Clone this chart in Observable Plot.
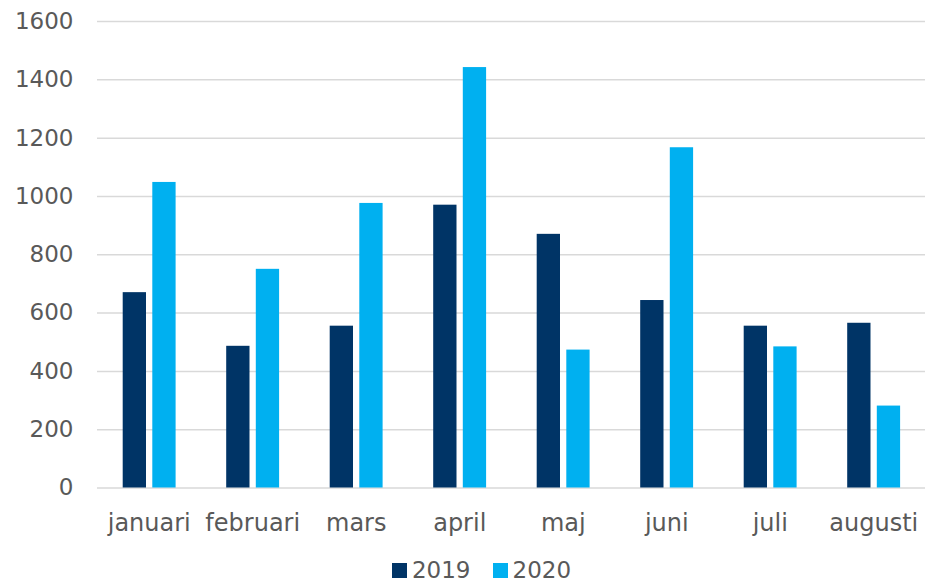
<!DOCTYPE html>
<html>
<head>
<meta charset="utf-8">
<script src="https://cdn.jsdelivr.net/npm/d3@7"></script>
<script src="https://cdn.jsdelivr.net/npm/@observablehq/plot@0.6"></script>
<style>
  html, body { margin: 0; padding: 0; background: #fff; }
  #chart { width: 925px; font-family: "DejaVu Sans", Verdana, sans-serif; }
  .legend { display: flex; justify-content: center; align-items: center; gap: 22px; height: 30px; margin-top: 7px;
    line-height: 1; font-family: "DejaVu Sans", Verdana, sans-serif; font-size: 23px; color: #595959; padding-left: 38px; }
  .legend span.sw { display: inline-block; width: 15px; height: 15px; margin-right: 5px; }
  .legend .item { display: flex; align-items: center; }
</style>
</head>
<body>
<div id="chart"></div>
<script>
const months = ["januari", "februari", "mars", "april", "maj", "juni", "juli", "augusti"];
const years = ["2019", "2020"];
const values2019 = [670, 486, 555, 970, 870, 643, 555, 565];
const values2020 = [1048, 750, 976, 1442, 473, 1167, 484, 281];
const yTicks = [0, 200, 400, 600, 800, 1000, 1200, 1400, 1600];
const colors = ["#003466", "#00B0F0"];

const data2019 = months.map((m, i) => ({month: m, year: years[0], value: values2019[i]}));
const data2020 = months.map((m, i) => ({month: m, year: years[1], value: values2020[i]}));

// layout of the two bars inside each month band (pixels)
const W = 925, mL = 97, mR = 0;
const step = (W - mL - mR) / months.length;
const barW = 23.3, gap = 6.3, lead = 25.7;

const chart = Plot.plot({
  width: W,
  height: 548,
  marginLeft: mL,
  marginRight: mR,
  marginTop: 21,
  marginBottom: 60.5,
  style: {fontFamily: "'DejaVu Sans', Verdana, sans-serif", fontSize: "23px", color: "#595959", background: "#fff"},
  x: {domain: months, padding: 0, round: false, label: null},
  y: {domain: [0, 1600], label: null},
  marks: [
    Plot.gridY(yTicks, {stroke: "#d9d9d9", strokeOpacity: 1, strokeWidth: 1.5}),
    Plot.axisY(yTicks, {tickSize: 0, tickPadding: 24, label: null, fill: "#595959", tickFormat: d => String(d)}),
    Plot.axisX({tickSize: 0, tickPadding: 26, label: null, fill: "#595959", fontSize: 24}),
    Plot.barY(data2019, {x: "month", y: "value", fill: colors[0],
      insetLeft: lead, insetRight: step - lead - barW}),
    Plot.barY(data2020, {x: "month", y: "value", fill: colors[1],
      insetLeft: lead + barW + gap, insetRight: step - lead - 2 * barW - gap})
  ]
});
document.getElementById("chart").appendChild(chart);

const legend = document.createElement("div");
legend.className = "legend";
years.forEach((y, i) => {
  const item = document.createElement("div");
  item.className = "item";
  const sw = document.createElement("span");
  sw.className = "sw";
  sw.style.background = colors[i];
  item.appendChild(sw);
  item.appendChild(document.createTextNode(y));
  legend.appendChild(item);
});
document.getElementById("chart").appendChild(legend);
</script>
</body>
</html>
